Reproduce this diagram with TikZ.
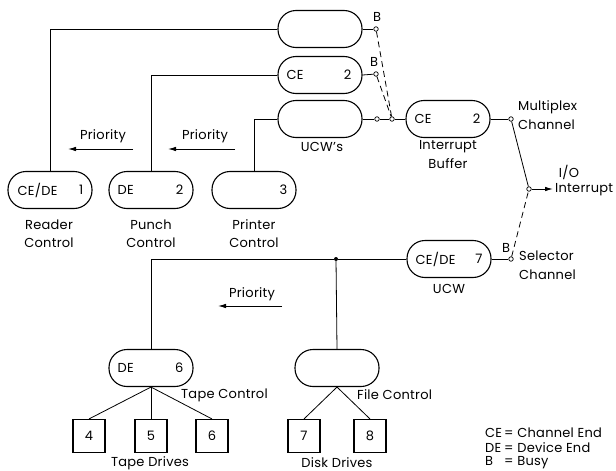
\documentclass[tikz,border=0pt]{standalone}
\usepackage{fontspec}
\setmainfont{Poppins}[LetterSpace=2]
\usetikzlibrary{arrows.meta,calc}
\tikzset{
 stadium/.style={draw, line width=1.1pt, rounded corners=18pt, minimum width=84pt, minimum height=37pt, inner sep=0pt},
 drive/.style={draw, line width=1.1pt, minimum width=32pt, minimum height=33pt, inner sep=0pt, font=\fontsize{13}{15}\selectfont},
 wire/.style={line width=0.8pt},
 dwire/.style={line width=0.8pt, dash pattern=on 6pt off 4pt},
 port/.style={circle, draw, fill=white, line width=0.7pt, inner sep=0pt, minimum size=4.5pt},
 lbl/.style={font=\fontsize{13}{15}\selectfont, inner sep=0pt},
 arr/.style={line width=0.9pt, -{Latex[length=8pt,width=4.5pt]}},
 jdot/.style={circle, fill, inner sep=0pt, minimum size=4pt}
}
\begin{document}
\begin{tikzpicture}[x=1pt,y=-1pt]
\useasboundingbox (0,0) rectangle (616,471);
% stadium boxes
\node[stadium] (ucwA) at (320,29) {};
\node[stadium] (ucwB) at (320,75) {};
\node[stadium] (ucwC) at (320,119) {};
\node[stadium] (reader) at (50,190) {};
\node[stadium] (punch) at (151,190) {};
\node[stadium] (printer) at (254,190) {};
\node[stadium] (ib) at (448,119) {};
\node[stadium] (sel) at (449,259) {};
\node[stadium] (tape) at (151,368) {};
\node[stadium] (file) at (337,368) {};
% drives
\node[drive] (d4) at (89,436) {4};
\node[drive] (d5) at (151,436) {5};
\node[drive] (d6) at (212,436) {6};
\node[drive] (d7) at (304,436) {7};
\node[drive] (d8) at (370,436) {8};
% box texts
\node[lbl, anchor=west] (tB1) at ([xshift=9pt]ucwB.west) {CE};
\node[lbl, anchor=east] (tB2) at ([xshift=-11pt]ucwB.east) {2};
\node[lbl, anchor=west] (tR1) at ([xshift=10pt]reader.west) {CE/DE};
\node[lbl, anchor=east] (tR2) at ([xshift=-9pt]reader.east) {1};
\node[lbl, anchor=west] (tP1) at ([xshift=9pt]punch.west) {DE};
\node[lbl, anchor=east] (tP2) at ([xshift=-10pt]punch.east) {2};
\node[lbl, anchor=east] (tQ2) at ([xshift=-9pt]printer.east) {3};
\node[lbl, anchor=west] (tI1) at ([xshift=9pt]ib.west) {CE};
\node[lbl, anchor=east] (tI2) at ([xshift=-10pt]ib.east) {2};
\node[lbl, anchor=west] (tS1) at ([xshift=9pt]sel.west) {CE/DE};
\node[lbl, anchor=east] (tS2) at ([xshift=-9pt]sel.east) {7};
\node[lbl, anchor=west] (tT1) at ([xshift=9pt]tape.west) {DE};
\node[lbl, anchor=east] (tT2) at ([xshift=-10pt]tape.east) {6};
% ports
\node[port] (pA) at (376,29) {};
\node[port] (pB) at (376,74) {};
\node[port] (pC1) at (377,119) {};
\node[port] (pC2) at (392,119) {};
\node[port] (pM) at (511,119) {};
\node[port] (pJ) at (529,189) {};
\node[port] (pS) at (511,259) {};
\node[jdot] (jn) at (336,259) {};
\coordinate (io) at (553,189);
% wires
\draw[wire] (ucwA.west) -| (reader.north);
\draw[wire] (ucwB.west) -| (punch.north);
\draw[wire] (ucwC.west) -| (printer.north);
\draw[wire] (ucwA.east) -- (pA);
\draw[wire] (ucwB.east) -- (pB);
\draw[wire] (ucwC.east) -- (pC1) -- (pC2) -- (ib.west);
\draw[dwire] (pA) -- (pC2);
\draw[dwire] (pB) -- (pC2);
\draw[wire] (ib.east) -- (pM);
\draw[wire] (pM) -- (pJ);
\draw[arr] (pJ) -- (io);
\draw[dwire] (pS) -- (pJ);
\draw[wire] (sel.east) -- (pS);
\draw[wire] (sel.west) -- (jn);
\draw[wire] (jn) -- (file.north);
\draw[wire] (jn) -| (tape.north);
\draw[wire] (tape.south) -- (d4.north);
\draw[wire] (tape.south) -- (d5.north);
\draw[wire] (tape.south) -- (d6.north);
\draw[wire] (file.south) -- (d7.north);
\draw[wire] (file.south) -- (d8.north);
% priority arrows
\coordinate (pr1s) at (133,149); \coordinate (pr1e) at (68,149);
\coordinate (pr2s) at (235,149); \coordinate (pr2e) at (168,149);
\coordinate (pr3s) at (282,306); \coordinate (pr3e) at (218,306);
\draw[arr] (pr1s) -- (pr1e);
\draw[arr] (pr2s) -- (pr2e);
\draw[arr] (pr3s) -- (pr3e);
\node[lbl] (lp1) at (103,136) {Priority};
\node[lbl] (lp2) at (205,136) {Priority};
\node[lbl] (lp3) at (252,294) {Priority};
% labels
\node[lbl] (bA) at (377,17) {B};
\node[lbl] (bB) at (374,62) {B};
\node[lbl] (bS) at (506,248) {B};
\node[lbl] (lucws) at (322,147) {UCW's};
\node[lbl] (lib1) at (448,147) {Interrupt};
\node[lbl] (lib2) at (448,164) {Buffer};
\node[lbl, anchor=west] (lmx1) at (518,107) {Multiplex};
\node[lbl, anchor=west] (lmx2) at (518,125) {Channel};
\node[lbl] (lio1) at (569,172) {I/O};
\node[lbl, anchor=west] (lio2) at (555,190) {Interrupt};
\node[lbl, anchor=west] (lsc1) at (519,256) {Selector};
\node[lbl, anchor=west] (lsc2) at (519,275) {Channel};
\node[lbl] (lucw) at (449,289) {UCW};
\node[lbl] (lr1) at (49,225) {Reader};
\node[lbl] (lr2) at (49,243) {Control};
\node[lbl] (lpu1) at (151,225) {Punch};
\node[lbl] (lpu2) at (151,243) {Control};
\node[lbl] (lpr1) at (254,225) {Printer};
\node[lbl] (lpr2) at (254,243) {Control};
\node[lbl, anchor=west] (ltc) at (181,395) {Tape Control};
\node[lbl, anchor=west] (lfc) at (357,395) {File Control};
\node[lbl] (ltd) at (150,463) {Tape Drives};
\node[lbl] (ldd) at (337,463) {Disk Drives};
\node[lbl, anchor=west] (leg1) at (485,433) {\makebox[19pt][l]{CE}= Channel End};
\node[lbl, anchor=west] (leg2) at (485,448) {\makebox[19pt][l]{DE}= Device End};
\node[lbl, anchor=west] (leg3) at (485,463) {\makebox[19pt][l]{B}= Busy};
\end{tikzpicture}
\end{document}
